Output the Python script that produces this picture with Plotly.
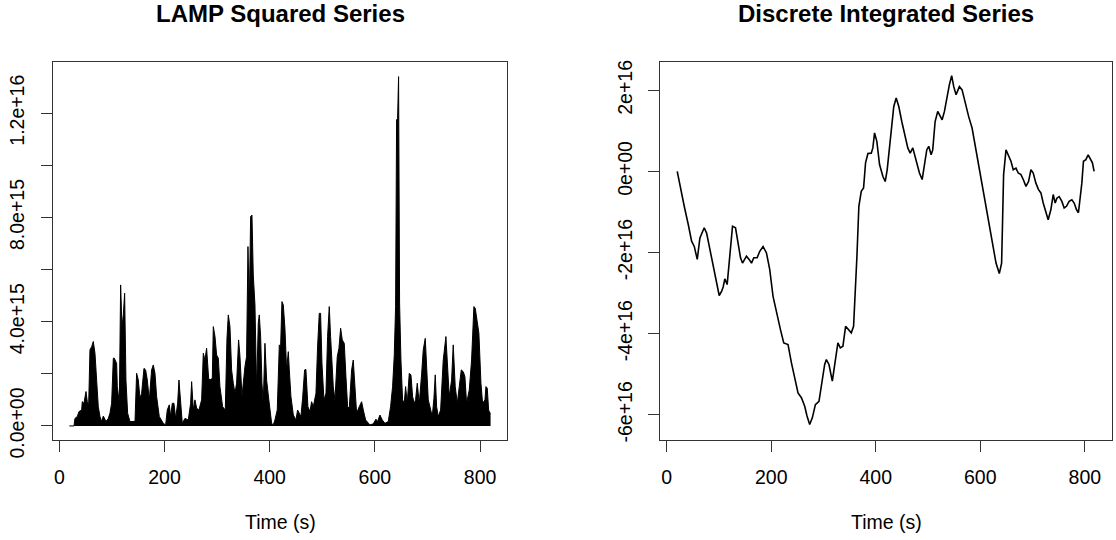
import plotly.graph_objects as go

# ---- LAMP squared series (envelope; y in units of 1e15) ----
lamp_t = [19.0, 27.9, 29.8, 34.2, 37.4, 42.5, 43.7, 46.9, 50.7, 53.2, 55.8, 58.3, 61.5, 64.6, 67.8, 71.0,
          74.1, 77.3, 80.5, 83.7, 88.7, 93.2, 96.3, 99.5, 102.7, 104.6, 107.1, 109.0, 110.3, 114.1, 116.6,
          119.1, 121.7, 124.2, 126.7, 129.9, 134.3, 143.9, 147.0, 150.2, 153.4, 156.5, 161.0, 164.1, 167.3,
          171.1, 175.5, 178.7, 181.9, 185.0, 190.1, 197.7, 202.2, 205.3, 209.1, 211.7, 214.8, 218.0, 221.2,
          225.0, 227.5, 230.7, 233.8, 238.9, 245.2, 249.7, 251.6, 254.8, 257.9, 261.1, 265.5, 270.6, 273.8,
          276.9, 280.1, 283.9, 286.4, 290.9, 292.8, 296.0, 299.1, 302.3, 305.4, 310.5, 315.6, 318.8, 321.3,
          324.5, 327.6, 330.8, 334.0, 337.1, 340.9, 343.5, 347.3, 353.0, 356.1, 358.7, 361.2, 363.8, 366.3,
          368.8, 372.0, 375.2, 378.3, 380.2, 382.8, 385.3, 387.8, 391.0, 394.2, 397.3, 400.5, 403.7, 406.8,
          410.0, 414.4, 418.3, 420.8, 423.3, 425.9, 429.0, 432.2, 435.4, 437.3, 440.4, 444.9, 449.9, 453.1,
          456.3, 459.4, 462.6, 466.4, 468.9, 472.7, 476.6, 479.7, 482.9, 488.0, 491.1, 494.3, 496.8, 499.4,
          503.2, 507.0, 510.1, 513.3, 515.8, 518.4, 520.9, 524.1, 528.5, 531.7, 534.9, 538.0, 541.8, 545.0,
          548.2, 551.3, 555.8, 558.9, 562.1, 565.3, 570.3, 574.8, 578.0, 582.4, 590.6, 597.0, 602.0, 605.2,
          609.6, 614.1, 619.1, 625.5, 629.9, 633.7, 636.9, 639.4, 641.3, 643.2, 645.1, 647.0, 649.6, 652.7,
          655.9, 658.4, 661.6, 665.4, 668.6, 671.7, 674.9, 677.4, 680.6, 684.4, 688.8, 692.0, 695.8, 698.4,
          701.5, 704.7, 709.1, 712.3, 714.8, 717.4, 720.5, 725.0, 730.0, 735.1, 737.6, 741.4, 745.9, 749.0,
          752.8, 756.7, 760.5, 764.3, 768.1, 771.2, 774.4, 779.5, 783.9, 788.3, 790.9, 794.7, 797.8, 801.7,
          804.8, 809.3, 811.2, 813.7, 816.3, 818.8, 820.0]
lamp_v = [0, 0, 0.29, 0.36, 0.55, 0.61, 0.93, 0.87, 1.32, 0.93, 0.81, 2.92, 3.04, 3.24, 2.79, 1.83,
          0.74, 0.36, 0.17, 0.38, 0.17, 0.29, 0.49, 0.87, 2.60, 2.60, 2.47, 2.40, 1.51, 0.87, 5.41,
          3.81, 4.26, 5.09, 1.76, 0.49, 0.17, 0.17, 2.02, 1.76, 1.06, 1.25, 2.21, 2.15, 1.76,
          1.0, 2.15, 2.34, 2.02, 1.13, 0.36, 0.10, 0.04, 0.61, 0.81, 0.36, 0.87, 0.87, 0.29,
          0.87, 1.76, 0.87, 0.10, 0.29, 0.23, 0.87, 1.70, 0.61, 1.0, 0.68, 0.61, 1.0, 2.79,
          2.53, 2.98, 1.83, 1.76, 1.83, 3.81, 3.43, 2.72, 2.60, 1.51, 0.74, 0.61, 3.36, 4.26,
          3.81, 2.15, 1.64, 1.25, 1.64, 3.30, 2.66, 1.13, 2.28, 2.66, 6.88, 4.58, 8.03, 8.09,
          5.79, 4.64, 1.38, 3.94, 4.26, 3.43, 1.64, 0.87, 3.17, 1.76, 1.19, 0.55, 0.10, 0.04,
          0.23, 0.61, 3.11, 3.04, 4.77, 4.64, 3.75, 2.15, 2.85, 2.15, 1.13, 0.42, 0.23, 0.61,
          0.49, 0.36, 1.06, 2.15, 2.17, 0.74, 0.55, 0.93, 0.74, 1.25, 3.04, 4.32, 4.32, 2.40,
          1.0, 1.25, 3.43, 4.58, 3.43, 2.15, 1.51, 1.0, 2.66, 2.98, 3.75, 3.30, 3.17, 1.89,
          0.74, 0.68, 2.15, 2.53, 1.51, 0.49, 0.74, 0.93, 0.61, 0.23, 0.04, 0.08, 0.26, 0.17,
          0.42, 0.23, 0.10, 0.17, 0.74, 1.51, 2.72, 4.58, 11.74, 11.80, 13.40, 4.71, 2.53, 1.0,
          0.87, 1.51, 0.87, 2.02, 1.96, 1.13, 0.87, 1.0, 1.64, 0.87, 1.96, 2.92, 3.36, 2.15,
          1.0, 0.74, 0.36, 1.06, 1.96, 0.74, 0.36, 0.61, 2.53, 3.43, 2.40, 1.13, 1.76, 3.11,
          1.51, 0.87, 1.51, 2.15, 2.08, 1.89, 0.87, 1.38, 2.53, 4.58, 4.51, 4.0, 3.56, 1.64,
          0.87, 1.0, 1.51, 1.45, 0.61, 0.49, 0.49]

# ---- Discrete integrated series (y in units of 1e16) ----
integ_t = [20.2, 25.4, 33.6, 41.3, 47.7, 52.8, 58.5, 63.6, 71.8, 76.4, 85.9, 94.1, 100.5, 105.0, 108.1,
           111.3, 115.7, 119.5, 126.0, 131.7, 136.7, 141.3, 145.1, 152.7, 157.7, 162.3, 166.7, 173.0, 178.1,
           184.4, 190.9, 197.2, 203.5, 210.0, 217.7, 224.0, 232.2, 238.7, 245.0, 251.3, 257.8, 264.1, 268.5,
           273.6, 278.8, 284.5, 291.4, 297.1, 302.3, 305.5, 310.5, 316.9, 322.7, 327.6, 332.2, 337.2, 342.3,
           348.7, 353.2, 357.6, 360.8, 364.0, 367.7, 372.3, 376.7, 380.5, 385.0, 391.4, 394.5, 397.7, 402.1,
           407.3, 413.6, 418.1, 421.9, 426.3, 430.7, 434.5, 439.1, 444.1, 449.8, 456.3, 461.3, 465.9, 470.9,
           476.0, 483.6, 488.8, 493.2, 497.6, 501.4, 506.0, 509.0, 513.6, 518.6, 521.8, 527.0, 531.4, 535.8,
           540.9, 545.3, 549.2, 553.7, 560.0, 565.2, 571.5, 577.8, 584.3, 591.9, 599.5, 607.7, 616.0, 623.6,
           630.1, 636.4, 640.8, 642.7, 644.6, 649.2, 654.1, 658.7, 663.1, 668.3, 672.6, 677.8, 682.2, 687.4,
           692.3, 696.9, 701.3, 706.4, 711.4, 716.0, 720.4, 725.5, 729.9, 735.1, 739.5, 743.3, 746.5, 750.9,
           756.1, 760.5, 764.9, 770.0, 775.2, 779.6, 784.0, 787.8, 791.1, 794.3, 797.4, 802.0, 806.4, 810.1,
           814.5, 817.8]
integ_v = [0.0, -0.37, -0.86, -1.31, -1.72, -1.85, -2.17, -1.64, -1.39, -1.52, -2.13, -2.67, -3.06, -2.96, -2.85,
           -2.65, -2.79, -2.26, -1.35, -1.39, -1.76, -2.13, -2.26, -2.09, -2.17, -2.26, -2.13, -2.13, -1.97,
           -1.85, -2.01, -2.42, -3.08, -3.49, -3.90, -4.23, -4.27, -4.72, -5.13, -5.46, -5.58, -5.79, -6.03,
           -6.24, -6.07, -5.75, -5.67, -5.21, -4.76, -4.64, -4.76, -5.17, -4.64, -4.23, -4.35, -4.31, -3.82,
           -3.90, -3.98, -3.82, -3.08, -2.09, -0.86, -0.49, -0.41, 0.21, 0.44, 0.45, 0.58, 0.95, 0.74,
           0.17, -0.12, -0.25, 0.04, 0.62, 1.11, 1.60, 1.81, 1.60, 1.23, 0.82, 0.58, 0.45, 0.58,
           0.33, -0.04, -0.20, 0.12, 0.53, 0.62, 0.41, 0.53, 1.23, 1.48, 1.40, 1.27, 1.48, 1.81,
           2.14, 2.36, 2.09, 1.89, 2.09, 2.01, 1.64, 1.35, 1.07, 0.53, -0.04, -0.62, -1.19, -1.76,
           -2.26, -2.52, -2.26, -1.19, -0.08, 0.53, 0.37, 0.25, 0.04, 0.08, -0.04, -0.08, -0.20, -0.37,
           -0.25, 0.04, -0.04, -0.29, -0.45, -0.53, -0.78, -1.02, -1.19, -0.94, -0.57, -0.78, -0.66, -0.62,
           -0.74, -0.90, -0.86, -0.74, -0.70, -0.78, -0.94, -1.02, -0.70, -0.29, 0.25, 0.29, 0.41, 0.33,
           0.21, 0.0]

time_ticks = [0, 200, 400, 600, 800]
left_yticks = [0, 2e15, 4e15, 6e15, 8e15, 1e16, 1.2e16]
left_ytext = ["0.0e+00", "", "4.0e+15", "", "8.0e+15", "", "1.2e+16"]
right_yticks = [-6e16, -4e16, -2e16, 0, 2e16]
right_ytext = ["-6e+16", "-4e+16", "-2e+16", "0e+00", "2e+16"]
titles = ["LAMP Squared Series", "Discrete Integrated Series"]
xlabel = "Time (s)"

FONT = "Liberation Sans, Arial, sans-serif"
W, H = 1116, 540
AX = "#333333"

fig = go.Figure()
fig.add_trace(go.Scatter(x=lamp_t, y=[v * 1e15 for v in lamp_v], mode="lines",
                         line=dict(color="black", width=1), fill="tozeroy", fillcolor="black",
                         xaxis="x", yaxis="y", showlegend=False, hoverinfo="skip"))
fig.add_trace(go.Scatter(x=integ_t, y=[v * 1e16 for v in integ_v], mode="lines",
                         line=dict(color="black", width=1.6),
                         xaxis="x2", yaxis="y2", showlegend=False, hoverinfo="skip"))

common_x = dict(range=[-12, 852], tickvals=time_ticks, ticks="outside", ticklen=11,
                tickcolor=AX, tickwidth=1, showline=True, mirror=True, linecolor=AX, linewidth=1,
                showgrid=False, zeroline=False, tickfont=dict(family=FONT, size=19.5, color="black"),
                ticklabelstandoff=9, automargin=False, fixedrange=True)
common_y = dict(ticks="outside", ticklen=11, tickcolor=AX, tickwidth=1, showline=True, mirror=True,
                linecolor=AX, linewidth=1, showgrid=False, zeroline=False, tickangle=-90,
                tickfont=dict(family=FONT, size=19.5, color="black"), ticklabelstandoff=9,
                automargin=False, fixedrange=True)

ydom = [1 - 439.5 / H, 1 - 62.3 / H]
left_dom = [53.0 / W, 507.4 / W]
right_dom = [660.4 / W, 1112.0 / W]

fig.update_layout(
    template="none",
    width=W, height=H, margin=dict(l=0, r=0, t=0, b=0, pad=0),
    paper_bgcolor="white", plot_bgcolor="white",
    xaxis=dict(domain=left_dom, anchor="y", **common_x),
    yaxis=dict(domain=ydom, anchor="x", range=[-0.52e15, 13.95e15], tickvals=left_yticks,
               ticktext=left_ytext, **common_y),
    xaxis2=dict(domain=right_dom, anchor="y2", **common_x),
    yaxis2=dict(domain=ydom, anchor="x2", range=[-6.61e16, 2.69e16], tickvals=right_yticks,
                ticktext=right_ytext, **common_y),
)

for dom, title in zip([left_dom, right_dom], titles):
    cx = (dom[0] + dom[1]) / 2
    fig.add_annotation(text=f"<b>{title}</b>", x=cx, y=1 - 14 / H, xref="paper", yref="paper",
                       xanchor="center", yanchor="middle", showarrow=False,
                       font=dict(family=FONT, size=24, color="black"))
    fig.add_annotation(text=xlabel, x=cx, y=1 - 522 / H, xref="paper", yref="paper",
                       xanchor="center", yanchor="middle", showarrow=False,
                       font=dict(family=FONT, size=19.5, color="black"))

fig.write_html("out.html", config={"displayModeBar": False},
               post_script="document.body.style.margin='0';document.body.style.overflow='hidden';")
